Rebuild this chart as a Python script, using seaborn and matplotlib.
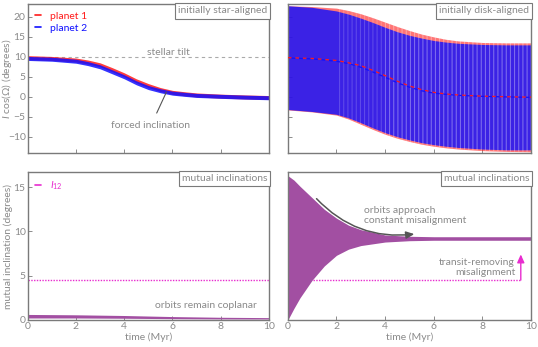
"""Inclination evolution of two planets: star-aligned vs disk-aligned starts."""
import matplotlib
matplotlib.use("Agg")
import matplotlib.pyplot as plt
import numpy as np
import seaborn as sns

# --- data ------------------------------------------------------------------
t = [0, 1, 2, 2.5, 3, 3.5, 4, 4.5, 5, 5.5, 6, 6.5, 7, 8, 9, 10]  # Myr

# top-left: initially star-aligned, I cos(Omega) centre of the (narrow) band
star_p1 = [9.8, 9.6, 9.2, 8.7, 8.0, 6.8, 5.5, 4.0, 2.8, 1.8, 1.1, 0.75, 0.45, 0.15, -0.05, -0.2]
star_p2 = [9.6, 9.4, 8.9, 8.3, 7.5, 6.25, 5.0, 3.5, 2.3, 1.5, 0.9, 0.6, 0.33, 0.1, -0.1, -0.25]
star_halfwidth = 0.5

# top-right: initially disk-aligned, oscillation envelopes and means
disk_p1_hi = [22.8, 22.6, 22.2, 21.6, 20.8, 19.8, 18.7, 17.6, 16.6, 15.7, 15.0, 14.4, 14.0, 13.6, 13.5, 13.5]
disk_p1_lo = [-3.3, -3.8, -4.6, -5.6, -6.9, -8.2, -9.4, -10.4, -11.2, -11.9, -12.4, -12.8, -13.1, -13.5, -13.7, -13.8]
disk_p2_hi = [22.8, 22.4, 21.5, 20.7, 19.7, 18.6, 17.4, 16.3, 15.4, 14.7, 14.1, 13.7, 13.4, 13.1, 13.0, 13.0]
disk_p2_lo = [-3.2, -3.7, -4.4, -5.3, -6.5, -7.8, -9.0, -10.0, -10.8, -11.5, -12.0, -12.4, -12.7, -13.1, -13.3, -13.3]
disk_p1_mean = [9.8, 9.6, 9.1, 8.5, 7.8, 6.6, 5.3, 3.9, 2.7, 1.8, 1.1, 0.7, 0.45, 0.15, 0.0, -0.1]
disk_p2_mean = [9.7, 9.5, 8.9, 8.3, 7.4, 6.2, 4.9, 3.5, 2.4, 1.5, 0.9, 0.6, 0.35, 0.1, -0.05, -0.15]

stellar_tilt = 10.0

# bottom-left: mutual inclination, star-aligned case
t_coplanar = [0, 2, 4, 6, 8, 10]
mut_star_hi = [0.62, 0.58, 0.5, 0.38, 0.3, 0.26]
mut_star_lo = [0.22, 0.22, 0.19, 0.14, 0.11, 0.1]

# bottom-right: mutual inclination, disk-aligned case
t_mut = [0, 0.25, 0.5, 1, 1.5, 2, 2.5, 3, 4, 5, 6, 8, 10]
mut_disk_hi = [16.3, 15.8, 15.1, 13.8, 12.5, 11.5, 10.7, 10.2, 9.6, 9.45, 9.4, 9.4, 9.4]
mut_disk_lo = [0.0, 1.3, 2.5, 4.5, 6.1, 7.3, 8.0, 8.4, 8.8, 8.95, 9.0, 9.0, 9.0]

transit_limit = 4.5

# --- style ------------------------------------------------------------------
sns.set_theme(style="ticks")
plt.rcParams["font.family"] = ["Lato", "DejaVu Sans"]
plt.rcParams["mathtext.fontset"] = "custom"
plt.rcParams["mathtext.it"] = "Lato:italic"
plt.rcParams["mathtext.rm"] = "Lato"
plt.rcParams["hatch.linewidth"] = 0.7

GREY = "#8a8a8a"
SPINE = "#7a7a7a"
RED = "#ff1a1a"
BLUE = "#1010ff"
PURPLE = "#a24fa2"
MAGENTA = "#e82ccf"
FS = 7.5

fig = plt.figure(figsize=(5.38, 3.47), dpi=100)
L1, R1 = 0.0515, 0.500
L2, R2 = 0.535, 0.987
TB, TT = 0.559, 0.988
BB, BT = 0.078, 0.504
ax_tl = fig.add_axes([L1, TB, R1 - L1, TT - TB])
ax_tr = fig.add_axes([L2, TB, R2 - L2, TT - TB])
ax_bl = fig.add_axes([L1, BB, R1 - L1, BT - BB])
ax_br = fig.add_axes([L2, BB, R2 - L2, BT - BB])


def style(ax, ylim, yticks, show_x, show_y):
    ax.set_xlim(0, 10)
    ax.set_ylim(*ylim)
    ax.set_xticks(range(0, 11, 2))
    ax.set_yticks(yticks)
    ax.tick_params(direction="in", length=3, width=0.6, colors=SPINE,
                   labelcolor=GREY, labelsize=FS, pad=1.5)
    if not show_x:
        ax.set_xticklabels([])
    if not show_y:
        ax.set_yticklabels([])
    for sp in ax.spines.values():
        sp.set_visible(True)
        sp.set_color(SPINE)
        sp.set_linewidth(1.0)
    ax.set_xlabel("")
    ax.set_ylabel("")


def corner_label(ax, text):
    ax.text(0.993, 0.985, text, transform=ax.transAxes, ha="right", va="top",
            fontsize=FS, color=GREY, zorder=10,
            bbox=dict(boxstyle="square,pad=0.3", fc="white", ec=SPINE, lw=0.8))


# top-left
ax = ax_tl
ax.axhline(stellar_tilt, color="#aaaaaa", ls=(0, (3, 3)), lw=0.8, zorder=1)
ax.fill_between(t, np.array(star_p1) - star_halfwidth,
                np.array(star_p1) + star_halfwidth, color=RED, lw=0, alpha=0.85)
ax.fill_between(t, np.array(star_p2) - star_halfwidth,
                np.array(star_p2) + star_halfwidth, color=BLUE, lw=0, alpha=0.85)
ax.plot([], [], color=RED, lw=1.2, label="planet 1")
ax.plot([], [], color=BLUE, lw=1.2, label="planet 2")
ax.legend(loc="upper left", frameon=False, fontsize=FS, handlelength=0.6,
          handletextpad=0.8, labelspacing=0.25, borderaxespad=0.4,
          labelcolor="linecolor", borderpad=0.3)
ax.text(5.85, 11.1, "stellar tilt", ha="center", va="center", fontsize=FS, color=GREY)
ax.annotate("forced inclination", xy=(5.75, 1.2), xytext=(5.1, -7.3),
            ha="center", va="center", fontsize=FS, color=GREY,
            arrowprops=dict(arrowstyle="-", color="#555555", lw=0.8,
                            shrinkA=4, shrinkB=0))
style(ax, (-14.1, 23.2), range(-10, 21, 5), False, True)
ax.set_ylabel(r"$I\ \cos(\Omega)$ (degrees)", fontsize=FS, color=GREY)
ax.yaxis.set_label_coords(-0.058, 0.5)
corner_label(ax, "initially star-aligned")

# top-right
ax = ax_tr
ax.fill_between(t, disk_p1_lo, disk_p1_hi, color=RED, lw=0, alpha=0.6)
ax.fill_between(t, disk_p2_lo, disk_p2_hi, color=BLUE, lw=0, alpha=0.82)
# fine vertical striations of the unresolved oscillation
ax.fill_between(t[2:], disk_p1_lo[2:], disk_p1_hi[2:], facecolor="none",
                edgecolor=(1, 1, 1, 0.2), lw=0, hatch="||||", zorder=2)
ax.fill_between(t[6:], disk_p1_lo[6:], disk_p1_hi[6:], facecolor="none",
                edgecolor=(1, 1, 1, 0.2), lw=0, hatch="||||", zorder=2)
sns.lineplot(x=t, y=disk_p1_mean, ax=ax, color=RED, lw=0.9,
             linestyle=(0, (3, 3)), zorder=3)
sns.lineplot(x=t, y=disk_p2_mean, ax=ax, color=BLUE, lw=0.9,
             linestyle=(3, (3, 3)), zorder=3)
style(ax, (-14.1, 23.2), range(-10, 21, 5), False, False)
corner_label(ax, "initially disk-aligned")

# bottom-left
ax = ax_bl
ax.axhline(transit_limit, color=MAGENTA, ls=(0, (1, 1)), lw=1.0, zorder=1)
ax.fill_between(t_coplanar, mut_star_lo, mut_star_hi, color=PURPLE, lw=0)
ax.plot([], [], color=MAGENTA, lw=1.2, label=r"$I_{12}$")
ax.legend(loc="upper left", frameon=False, fontsize=FS, handlelength=0.6,
          handletextpad=0.8, borderaxespad=0.4, labelcolor="linecolor", borderpad=0.3)
ax.text(7.4, 1.6, "orbits remain coplanar", ha="center", va="center",
        fontsize=FS, color=GREY)
style(ax, (0, 16.7), [0, 5, 10, 15], True, True)
ax.set_xlabel("time (Myr)", fontsize=FS, color=GREY, labelpad=1)
ax.set_ylabel("mutual inclination (degrees)", fontsize=FS, color=GREY)
ax.yaxis.set_label_coords(-0.062, 0.5)
corner_label(ax, "mutual inclinations")

# bottom-right
ax = ax_br
ax.plot([0, 9.58], [transit_limit, transit_limit], color=MAGENTA,
        ls=(0, (1, 1)), lw=1.0, zorder=1)
ax.fill_between(t_mut, mut_disk_lo, mut_disk_hi, color=PURPLE, lw=0, zorder=2)
ax.annotate("", xy=(9.58, 7.4), xytext=(9.58, transit_limit),
            arrowprops=dict(arrowstyle="-|>,head_length=0.4,head_width=0.18",
                            color=MAGENTA, lw=1.0, shrinkA=0, shrinkB=0))
ax.text(9.35, 5.95, "transit-removing\nmisalignment", ha="right", va="center",
        fontsize=FS, color=GREY, linespacing=1.15)
ax.annotate("", xy=(5.2, 9.7), xytext=(1.18, 13.7),
            arrowprops=dict(arrowstyle="-|>,head_length=0.4,head_width=0.18",
                            color="#555555", lw=1.1, shrinkA=0, shrinkB=0,
                            connectionstyle="arc3,rad=0.25"))
ax.text(3.15, 11.75, "orbits approach\nconstant misalignment", ha="left",
        va="center", fontsize=FS, color=GREY, linespacing=1.15)
style(ax, (0, 16.7), [0, 5, 10, 15], True, False)
ax.set_xlabel("time (Myr)", fontsize=FS, color=GREY, labelpad=1)
corner_label(ax, "mutual inclinations")

fig.savefig("out.png", dpi=100)
